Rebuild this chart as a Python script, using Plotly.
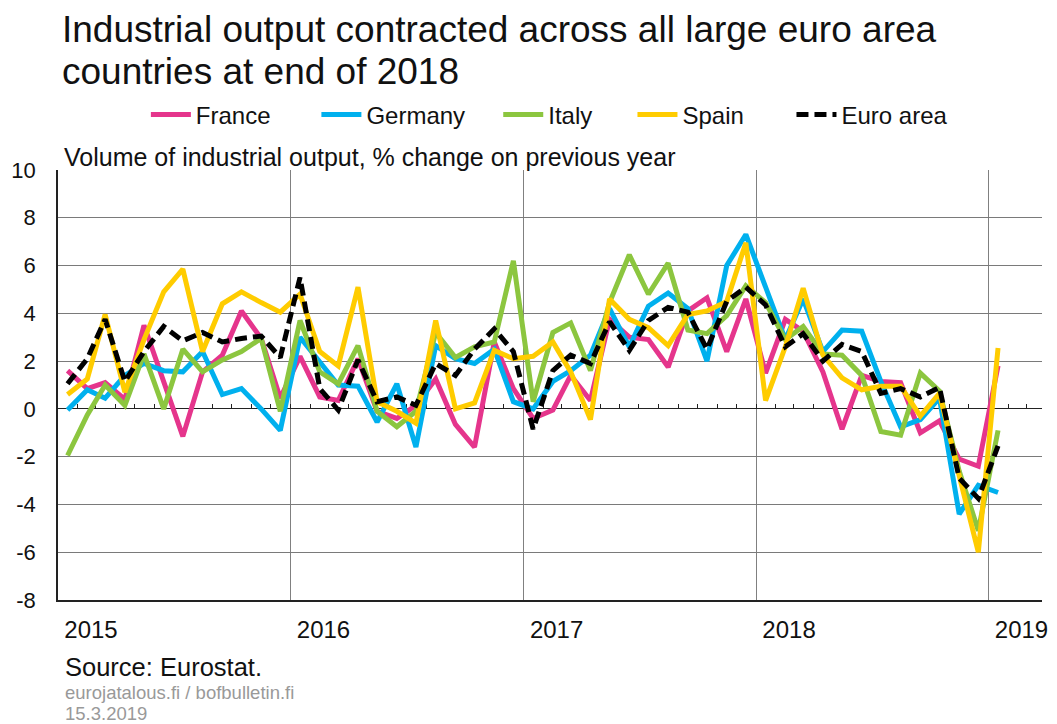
import plotly.graph_objects as go
import pandas as pd

# ---------------- data ----------------
month_starts = pd.date_range("2015-01-01", "2019-01-01", freq="MS")

france = [1.6, 0.85, 1.1, 0.4, 3.5, 1.2, -1.15, 1.55, 2.25, 4.1, 2.95, 0.45,
          2.2, 0.5, 0.35, 2.1, -0.1, -0.4, 0.15, 1.25, -0.65, -1.6, 2.8, 0.85,
          -0.4, -0.05, 1.4, 0.35, 3.75, 3.0, 2.9, 1.75, 4.1, 4.65, 2.4, 4.6,
          1.5, 3.75, 3.25, 1.55, -0.85, 1.4, 1.15, 1.1, -1.0, -0.5, -2.1, -2.4, 1.8]
germany = [-0.05, 0.8, 0.45, 1.4, 1.9, 1.6, 1.55, 2.4, 0.6, 0.85, 0.0, -0.9,
           3.0, 2.0, 1.0, 0.95, -0.55, 1.05, -1.6, 2.65, 2.1, 1.9, 2.5, 0.3,
           0.0, 1.15, 1.6, 2.25, 4.2, 2.6, 4.3, 4.85, 4.2, 2.0, 6.0, 7.3,
           5.1, 2.9, 4.6, 2.4, 3.3, 3.25, 1.15, -0.75, -0.45, 0.45, -4.4, -3.2, -3.5]
italy = [-1.95, -0.25, 1.0, 0.15, 2.3, 0.0, 2.5, 1.55, 2.05, 2.4, 2.95, -0.1,
         3.7, 1.55, 1.05, 2.65, -0.1, -0.75, -0.1, 3.2, 2.15, 2.6, 2.8, 6.2,
         0.3, 3.2, 3.6, 1.6, 4.45, 6.45, 4.8, 6.1, 3.3, 3.15, 3.9, 5.15,
         4.45, 2.9, 3.45, 2.3, 2.25, 1.4, -0.95, -1.1, 1.5, 0.75, -2.6, -5.1, -0.9]
spain = [0.6, 1.25, 3.95, 0.7, 2.9, 4.9, 5.85, 2.4, 4.4, 4.9, 4.45, 4.05,
         4.8, 2.4, 1.8, 5.1, 0.3, -0.1, -0.6, 3.7, 0.0, 0.25, 2.45, 2.1,
         2.2, 2.8, 1.55, -0.45, 4.6, 3.75, 3.4, 2.65, 3.95, 4.1, 4.5, 6.95,
         0.35, 2.6, 5.05, 2.25, 1.3, 0.8, 0.95, 0.95, -0.3, 0.65, -2.8, -6.0, 2.55]
euro_area = [1.05, 2.1, 3.75, 1.15, 2.4, 3.45, 2.85, 3.2, 2.8, 2.95, 3.05, 2.15,
             5.5, 0.85, -0.05, 2.05, 0.3, 0.5, 0.15, 1.9, 1.4, 2.5, 3.35, 2.4,
             -0.85, 1.6, 2.25, 1.9, 3.65, 2.45, 3.7, 4.25, 4.05, 2.5, 4.5, 5.1,
             4.35, 2.6, 3.15, 2.0, 2.7, 2.4, 0.65, 0.85, 0.5, 0.9, -2.9, -3.75, -1.55]

series_names = ["France", "Germany", "Italy", "Spain", "Euro area"]
series_values = [france, germany, italy, spain, euro_area]
series_colors = ["#e5358c", "#00b0ee", "#8cc63f", "#ffcc00", "#000000"]
series_dash = ["solid", "solid", "solid", "solid", "12px,6px"]
legend_ids = ["legend", "legend2", "legend3", "legend4", "legend5"]
legend_x = [0.0893, 0.2626, 0.4474, 0.5838, 0.7454]

y_tick_values = [-8, -6, -4, -2, 0, 2, 4, 6, 8, 10]
y_tick_labels = ["-8", "-6", "-4", "-2", "0", "2", "4", "6", "8", "10"]

title_lines = ["Industrial output contracted across all large euro area",
               "countries at end of 2018"]
subtitle = "Volume of industrial output, % change on previous year"
source = "Source: Eurostat."
footer_lines = ["eurojatalous.fi / bofbulletin.fi", "15.3.2019"]

FONT = "Liberation Sans, Arial, sans-serif"

# mid-month positions
x_vals = month_starts + pd.Timedelta(days=15)

fig = go.Figure()
for name, vals, col, dash, lg in zip(series_names, series_values, series_colors,
                                     series_dash, legend_ids):
    fig.add_trace(go.Scatter(
        x=x_vals, y=vals, mode="lines", name=name, legend=lg,
        line=dict(color=col, width=5, dash=dash),
        hoverinfo="x+y+name",
    ))

W, H = 1057, 724
ml, mr, mt, mb = 58, 9, 170, 124


def py(pix):
    return (H - mb - pix) / (H - mt - mb)


def px(pix):
    return (pix - ml) / (W - ml - mr)


layout_legends = {}
for lg, lx in zip(legend_ids, legend_x):
    layout_legends[lg] = dict(
        x=lx, y=py(115), xanchor="left", yanchor="middle",
        orientation="h", font=dict(family=FONT, size=24, color="#111"),
        bgcolor="rgba(0,0,0,0)", itemwidth=40,
    )

fig.update_layout(
    width=W, height=H,
    margin=dict(l=ml, r=mr, t=mt, b=mb),
    paper_bgcolor="white", plot_bgcolor="white",
    font=dict(family=FONT, color="#111"),
    showlegend=True,
    **layout_legends,
)

fig.update_xaxes(
    type="date",
    range=["2015-01-01", "2019-03-26"],
    tick0="2015-01-01", dtick="M12", tickformat="%Y",
    showgrid=True, gridcolor="#808080", gridwidth=1,
    showline=True, linecolor="#222", linewidth=1.5,
    ticks="", ticklabelshift=33, ticklabelstandoff=7,
    tickfont=dict(family=FONT, size=24, color="#111"),
    zeroline=False,
)
fig.update_yaxes(
    range=[-8, 10], tickvals=y_tick_values, ticktext=y_tick_labels,
    showgrid=True, gridcolor="#7a7a7a", gridwidth=1,
    zeroline=True, zerolinecolor="#222", zerolinewidth=1.2,
    showline=True, linecolor="#222", linewidth=1.5,
    ticks="", ticklabelstandoff=16,
    tickfont=dict(family=FONT, size=22, color="#111"),
)

# month tick marks on the zero line
fig.update_layout(
    xaxis2=dict(
        type="date", overlaying="x", anchor="free", position=8 / 18,
        range=["2015-01-01", "2019-03-26"], tick0="2015-01-01", dtick="M1",
        ticks="inside", ticklen=5, tickcolor="#222", tickwidth=1,
        showticklabels=False, showgrid=False, showline=False, zeroline=False,
        layer="below traces",
    )
)
# invisible helper trace so xaxis2 is drawn
fig.add_trace(go.Scatter(x=[month_starts[0]], y=[None], xaxis="x2", showlegend=False,
                         hoverinfo="skip"))

annotations = [
    dict(text=title_lines[0], x=px(60), y=py(29), font=dict(size=37)),
    dict(text=title_lines[1], x=px(60), y=py(71), font=dict(size=37)),
    dict(text=subtitle, x=px(62), y=py(157), font=dict(size=25)),
    dict(text=source, x=px(63), y=py(667), font=dict(size=25.5)),
    dict(text=footer_lines[0], x=px(63), y=py(692), font=dict(size=18.5, color="#999999")),
    dict(text=footer_lines[1], x=px(63), y=py(713), font=dict(size=18.5, color="#999999")),
]
for a in annotations:
    f = dict(family=FONT, color="#111")
    f.update(a.pop("font"))
    fig.add_annotation(xref="paper", yref="paper", xanchor="left", yanchor="middle",
                       showarrow=False, font=f, **a)

fig.write_html("out.html",
               config={"displayModeBar": False},
               post_script="document.body.style.margin='0';document.body.style.padding='0';")
